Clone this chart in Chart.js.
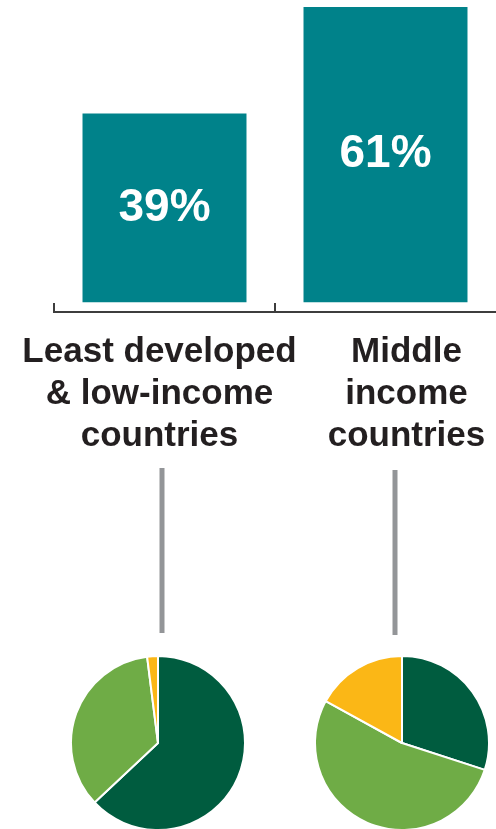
<!DOCTYPE html>
<html>
<head>
<meta charset="utf-8">
<script src="https://cdn.jsdelivr.net/npm/chart.js@4/dist/chart.umd.min.js"></script>
<style>
  body { margin: 0; background: #fff; }
  #wrap { position: relative; width: 496px; height: 829px; overflow: hidden; }
  canvas { position: absolute; }
  #bar-chart { left: 0; top: 0; }
  #pie-low { left: 70px; top: 655px; }
  #pie-mid { left: 314px; top: 655px; }
</style>
</head>
<body>
<div id="wrap">
  <canvas id="bar-chart" width="496" height="640"></canvas>
  <canvas id="pie-low" width="176" height="176"></canvas>
  <canvas id="pie-mid" width="176" height="176"></canvas>
</div>
<script>
const categories = [
  ["Least developed", "& low-income", "countries"],
  ["Middle", "income", "countries"]
];
const shares = [39, 61];
const shareLabels = ["39%", "61%"];

// pie slices, clockwise from 12 o'clock
const sliceLow = [63, 35, 2];
const sliceMid = [30, 53, 17];
const sliceColors = ['#005c3f', '#6fac46', '#fbb716'];

const teal = '#00828a';
const labelNudge = [-5, 21];

Chart.defaults.font.family = '"Liberation Sans", Arial, sans-serif';
Chart.defaults.animation = false;

// axis, tick marks, value labels, category labels and connector lines
const barDecor = {
  id: 'barDecor',
  afterDatasetsDraw(chart) {
    const ctx = chart.ctx;
    const area = chart.chartArea;
    const x = chart.scales.x;
    const meta = chart.getDatasetMeta(0);
    const step = x.getPixelForValue(1) - x.getPixelForValue(0);

    ctx.save();
    ctx.strokeStyle = '#3d3d3d';
    ctx.lineWidth = 2;
    ctx.beginPath();
    ctx.moveTo(area.left, area.bottom);
    ctx.lineTo(area.right, area.bottom);
    for (let i = 0; i < categories.length; i++) {
      const edge = x.getPixelForValue(i) - step / 2;
      ctx.moveTo(edge, area.bottom + 1);
      ctx.lineTo(edge, area.bottom - 9);
    }
    ctx.stroke();

    ctx.fillStyle = '#fff';
    ctx.textAlign = 'center';
    ctx.textBaseline = 'middle';
    ctx.font = 'bold 46px "Liberation Sans", Arial, sans-serif';
    meta.data.forEach((bar, i) => {
      ctx.fillText(shareLabels[i], bar.x, (bar.y + bar.base) / 2);
    });

    ctx.fillStyle = '#231f20';
    ctx.textBaseline = 'alphabetic';
    ctx.font = 'bold 35px "Liberation Sans", Arial, sans-serif';
    categories.forEach((lines, i) => {
      const cx = x.getPixelForValue(i) + labelNudge[i];
      lines.forEach((line, j) => {
        ctx.fillText(line, cx, 362 + j * 42);
      });
    });

    ctx.strokeStyle = '#939598';
    ctx.lineWidth = 5;
    ctx.beginPath();
    ctx.moveTo(162, 468);
    ctx.lineTo(162, 633);
    ctx.moveTo(395, 470);
    ctx.lineTo(395, 635);
    ctx.stroke();
    ctx.restore();
  }
};

const barCanvas = document.getElementById("bar-chart");
let barChart = new Chart(barCanvas, {
  type: 'bar',
  data: {
    labels: categories,
    datasets: [{
      data: shares,
      backgroundColor: teal,
      barPercentage: 0.742,
      categoryPercentage: 1
    }]
  },
  options: {
    responsive: false,
    layout: { padding: { left: 54, right: 0, top: 7, bottom: 328 } },
    scales: {
      x: { display: false },
      y: { display: false, min: -2, max: 61 }
    },
    plugins: { legend: { display: false }, tooltip: { enabled: false } }
  },
  plugins: [barDecor]
});

function makePie(id, values) {
  return new Chart(document.getElementById(id), {
    type: 'pie',
    data: {
      labels: ["Dark", "Light", "Yellow"],
      datasets: [{
        data: values,
        backgroundColor: sliceColors,
        borderColor: '#fff',
        borderWidth: 2
      }]
    },
    options: {
      responsive: false,
      plugins: { legend: { display: false }, tooltip: { enabled: false } }
    }
  });
}

let pieLow = makePie("pie-low", sliceLow);
let pieMid = makePie("pie-mid", sliceMid);
</script>
</body>
</html>
